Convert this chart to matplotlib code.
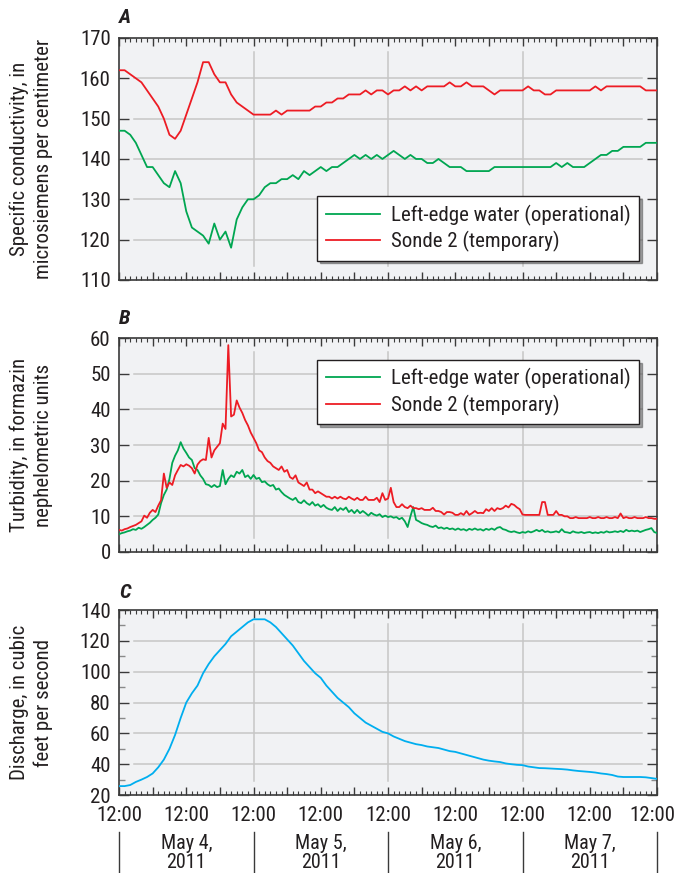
import numpy as np
import matplotlib
matplotlib.use('Agg')
import matplotlib.pyplot as plt
from matplotlib import font_manager
from matplotlib.transforms import ScaledTranslation
from matplotlib.ticker import MultipleLocator, FuncFormatter

# hours since May 4, 2011 00:00 (hourly for conductivity/discharge, half-hourly for turbidity)
hours = np.arange(0, 97, 1.0)
half_hours = np.arange(0, 96.5, 0.5)

# A: specific conductivity, microsiemens per centimeter (hourly)
cond_left = [147, 147, 146, 144, 141, 138, 138, 136, 134, 133,
             137, 134, 127, 123, 122, 121, 119, 124, 120, 122,
             118, 125, 128, 130, 130, 131, 133, 134, 134, 135,
             135, 136, 135, 137, 136, 137, 138, 137, 138, 138,
             139, 140, 141, 140, 141, 140, 141, 140, 141, 142,
             141, 140, 141, 140, 140, 139, 139, 140, 139, 138,
             138, 138, 137, 137, 137, 137, 137, 138, 138, 138,
             138, 138, 138, 138, 138, 138, 138, 138, 139, 138,
             139, 138, 138, 138, 139, 140, 141, 141, 142, 142,
             143, 143, 143, 143, 144, 144, 144]
cond_sonde = [162, 162, 161, 160, 159, 157, 155, 153, 150, 146,
              145, 147, 151, 155, 159, 164, 164, 161, 159, 159,
              156, 154, 153, 152, 151, 151, 151, 151, 152, 151,
              152, 152, 152, 152, 152, 153, 153, 154, 154, 155,
              155, 156, 156, 156, 157, 156, 157, 157, 156, 157,
              157, 158, 157, 158, 157, 158, 158, 158, 158, 159,
              158, 158, 159, 158, 158, 158, 157, 156, 157, 157,
              157, 157, 157, 158, 157, 157, 156, 156, 157, 157,
              157, 157, 157, 157, 157, 158, 157, 158, 158, 158,
              158, 158, 158, 158, 157, 157, 157]

# B: turbidity, FNU (half-hourly)
turb_left = [5.0, 5.3, 5.5, 5.8, 6.0, 6.4, 6.2, 6.8, 6.5, 7.0, 7.6, 8.2,
             9.0, 9.6, 10.5, 13.7, 16.0, 17.5, 20.5, 25.0, 27.0, 28.5, 30.8, 29.0,
             27.8, 26.5, 25.8, 23.5, 23.0, 21.5, 20.5, 19.0, 18.8, 18.2, 18.8, 18.2,
             18.5, 23.0, 19.0, 20.5, 21.5, 21.0, 22.5, 22.0, 23.0, 21.0, 21.5, 20.5,
             21.6, 20.5, 20.8, 19.6, 19.8, 19.0, 18.5, 18.8, 17.5, 17.8, 16.8, 16.0,
             15.5, 15.0, 14.6, 15.2, 14.0, 13.7, 14.5, 13.7, 13.2, 14.0, 13.0, 13.4,
             12.6, 13.2, 12.4, 12.0, 11.8, 12.6, 11.5, 12.3, 11.8, 12.5, 11.2, 11.8,
             10.9, 11.8, 10.9, 11.5, 10.9, 10.2, 11.0, 10.5, 10.2, 10.6, 9.8, 10.2,
             9.8, 10.0, 9.6, 9.8, 9.2, 9.6, 8.6, 7.0, 10.0, 12.6, 9.0, 8.6,
             8.1, 7.8, 7.6, 7.2, 7.0, 7.4, 6.7, 6.9, 6.5, 6.8, 6.4, 6.6,
             6.2, 6.6, 6.2, 6.4, 6.0, 6.5, 6.2, 6.6, 6.2, 6.4, 6.0, 6.5,
             6.2, 6.6, 6.2, 6.8, 7.0, 6.4, 6.2, 5.8, 5.6, 5.8, 5.5, 5.3,
             5.6, 5.4, 5.8, 5.5, 5.8, 6.2, 5.8, 6.2, 5.6, 5.8, 5.5, 5.6,
             5.8, 5.5, 6.4, 5.6, 5.5, 5.3, 5.8, 5.5, 5.4, 5.6, 5.3, 5.5,
             5.6, 5.3, 5.5, 5.3, 5.6, 5.4, 5.8, 5.5, 5.6, 5.8, 5.6, 5.9,
             5.6, 6.2, 5.8, 6.0, 5.8, 6.0, 5.6, 5.9, 6.2, 6.4, 6.7, 5.6,
             5.3]
turb_sonde = [6.2, 6.0, 6.4, 6.6, 7.0, 7.3, 7.6, 8.1, 8.6, 10.2, 9.6, 11.0,
              11.8, 11.2, 13.0, 14.5, 22.0, 18.0, 19.5, 18.8, 21.5, 23.0, 24.4, 24.0,
              24.6, 24.2, 23.5, 22.0, 24.5, 25.5, 26.0, 25.8, 32.0, 26.5, 28.5, 29.5,
              30.5, 36.0, 34.5, 58.0, 38.0, 38.5, 42.5, 40.5, 39.0, 37.0, 35.5, 33.5,
              32.0, 30.5, 28.5, 28.0, 26.5, 25.5, 25.0, 24.0, 23.5, 23.0, 24.0, 22.5,
              23.0, 21.0, 20.5, 21.5, 19.5, 19.0, 18.5, 19.5, 17.5, 17.5, 16.5, 17.0,
              16.5, 16.0, 15.5, 15.5, 15.0, 15.5, 15.0, 15.5, 15.0, 14.8, 15.5, 15.0,
              14.6, 15.2, 14.6, 14.6, 15.5, 14.6, 14.6, 14.6, 15.2, 14.0, 16.5, 14.6,
              15.0, 18.0, 14.0, 12.6, 12.6, 13.4, 12.6, 12.3, 13.0, 12.3, 12.3, 12.0,
              12.3, 11.8, 11.8, 11.8, 12.4, 11.5, 11.5, 11.2, 10.5, 11.2, 11.2, 11.0,
              10.4, 10.4, 10.9, 10.4, 11.5, 10.4, 10.9, 11.5, 10.9, 11.0, 10.9, 12.0,
              11.5, 12.3, 11.5, 12.3, 12.0, 12.3, 13.0, 12.5, 13.5, 13.2, 12.5, 12.0,
              10.5, 10.4, 10.4, 10.4, 10.4, 10.4, 10.4, 14.0, 14.0, 10.4, 10.4, 10.4,
              11.5, 10.4, 10.4, 10.0, 10.0, 9.5, 9.5, 9.8, 9.5, 9.5, 9.5, 9.5,
              9.8, 9.5, 9.5, 9.8, 9.5, 9.5, 9.8, 9.5, 9.5, 9.8, 9.5, 10.8,
              9.5, 9.8, 9.5, 9.5, 9.8, 9.5, 9.5, 9.5, 9.8, 9.5, 9.5, 9.3,
              9.3]

# C: discharge, cubic feet per second (hourly)
discharge = [25.8, 25.8, 26.5, 28.5, 30, 31.7, 34, 38, 43, 50,
             59, 70, 80, 86, 91, 99, 105, 110, 114, 118,
             123, 126, 129, 132, 134, 134, 134, 132, 129, 125,
             121, 117, 112, 107, 103, 99, 96, 91, 87, 83,
             80, 77, 73, 70, 67, 65, 63, 61, 60, 58,
             56.5, 55, 54, 53, 52.4, 51.5, 51, 50.5, 49.5, 48.5,
             48, 47, 46, 45, 44, 43, 42.3, 41.8, 41.4, 40.5,
             40, 39.6, 39.4, 38.5, 38, 37.5, 37.4, 37.2, 37, 36.8,
             36.5, 36, 35.6, 35.3, 35, 34.6, 34, 33.6, 33, 32,
             31.7, 31.7, 31.7, 31.7, 31.5, 31, 30.5]

day_centers = [12, 36, 60, 84]
day_labels = ['May 4,\n2011', 'May 5,\n2011', 'May 6,\n2011', 'May 7,\n2011']
day_edges = [0, 24, 48, 72, 96]

GREEN = '#00a651'
RED = '#ed1c24'
BLUE = '#00aeef'
TXT = '#231f20'

# pick a condensed font if available
names = {f.name for f in font_manager.fontManager.ttflist}
family = 'DejaVu Sans'
for cand in ['Liberation Sans Narrow', 'Roboto Condensed', 'Open Sans Condensed']:
    if cand in names:
        family = cand
        break
plt.rcParams['font.family'] = [family, 'DejaVu Sans']
if family == 'DejaVu Sans':
    plt.rcParams['font.stretch'] = 'condensed'
plt.rcParams['text.color'] = TXT
plt.rcParams['axes.labelcolor'] = TXT
plt.rcParams['xtick.color'] = '#3a3a3a'
plt.rcParams['ytick.color'] = '#3a3a3a'
plt.rcParams['xtick.labelcolor'] = TXT
plt.rcParams['ytick.labelcolor'] = TXT

FS = 15


def style_axes(ax, ymin, ymax, ystep, yminor=None):
    ax.set_facecolor('#f1f2f4')
    ax.set_xlim(0, 96)
    ax.set_ylim(ymin, ymax)
    ax.xaxis.set_major_locator(MultipleLocator(6))
    ax.xaxis.set_minor_locator(MultipleLocator(1))
    ax.yaxis.set_major_locator(MultipleLocator(ystep))
    if yminor:
        ax.yaxis.set_minor_locator(MultipleLocator(yminor))
    ax.tick_params(axis='both', which='both', direction='in',
                   top=True, bottom=True, left=True, right=True, labelsize=FS)
    ax.tick_params(axis='x', which='major', length=5.5, width=1.0)
    ax.tick_params(axis='x', which='minor', length=3.0, width=0.8)
    ax.tick_params(axis='y', which='major', length=7, width=1.0, pad=6)
    ax.tick_params(axis='y', which='minor', length=4.5, width=1.0, color='#8a8a8a')
    for sp in ax.spines.values():
        sp.set_color('#3a3a3a')
        sp.set_linewidth(1.2)
    # inset grid lines
    h_px = ax.get_position().height * 873
    inset = 14 / h_px
    for v in np.arange(ymin + ystep, ymax, ystep):
        ax.axhline(v, xmin=0.027, xmax=0.972, color='#c6c6c6', lw=1.1, zorder=1)
    for d in day_edges[1:-1]:
        ax.axvline(d, ymin=inset, ymax=1 - inset, color='#c6c6c6', lw=1.1, zorder=1)


fig = plt.figure(figsize=(6.74, 8.73), dpi=100)
ax_a = fig.add_axes([0.1766, 0.6793, 0.7982, 0.2772])
ax_b = fig.add_axes([0.1766, 0.3677, 0.7982, 0.2451])
ax_c = fig.add_axes([0.1766, 0.0893, 0.7982, 0.2119])

# panel A
style_axes(ax_a, 110, 170, 10)
ax_a.plot(hours, cond_left, color=GREEN, lw=1.3, zorder=3, label='Left-edge water (operational)')
ax_a.plot(hours, cond_sonde, color=RED, lw=1.3, zorder=3, label='Sonde 2 (temporary)')
ax_a.tick_params(axis='x', labelbottom=False)
ax_a.set_ylabel('Specific conductivity, in\nmicrosiemens per centimeter', fontsize=15, linespacing=1.3)

# panel B
style_axes(ax_b, 0, 60, 10)
ax_b.plot(half_hours, turb_left, color=GREEN, lw=1.3, zorder=3, label='Left-edge water (operational)')
ax_b.plot(half_hours, turb_sonde, color=RED, lw=1.3, zorder=3, label='Sonde 2 (temporary)')
ax_b.tick_params(axis='x', labelbottom=False)
ax_b.set_ylabel('Turbidity, in formazin\nnephelometric units', fontsize=15, linespacing=1.3)

# panel C
style_axes(ax_c, 20, 140, 20, yminor=10)
ax_c.plot(hours, discharge, color=BLUE, lw=1.3, zorder=3)
# last label is placed by hand so it stays inside the figure
ax_c.xaxis.set_major_formatter(FuncFormatter(lambda x, pos: '12:00' if x % 12 == 0 and x < 96 else ''))
ax_c.tick_params(axis='x', which='major', pad=8)
ax_c.set_ylabel('Discharge, in cubic\nfeet per second', fontsize=15, linespacing=1.3)

xt = ax_c.get_xaxis_transform()
shift = ScaledTranslation(-5 / 100, 0, fig.dpi_scale_trans)
ax_c.text(96, -8 / 72 * 100 / (0.2119 * 873), '12:00', transform=xt + shift,
          ha='center', va='top', fontsize=FS)

for ax in (ax_a, ax_b, ax_c):
    ax.yaxis.set_label_coords(-0.123, 0.5)

for ax, anchor in ((ax_a, (0.967, 0.345)), (ax_b, (0.967, 0.898))):
    leg = ax.legend(loc='upper right', bbox_to_anchor=anchor, fontsize=15, frameon=True,
                    fancybox=False, shadow=True, handlelength=2.6, handletextpad=0.55,
                    labelspacing=0.25, borderpad=0.4, borderaxespad=0)
    leg.get_frame().set_edgecolor('#231f20')
    leg.get_frame().set_linewidth(1.0)
    leg.get_frame().set_facecolor('white')
    leg.set_zorder(5)

# panel letters
for ax, letter in ((ax_a, 'A'), (ax_b, 'B'), (ax_c, 'C')):
    ax.text(0.0, 1.045, letter, transform=ax.transAxes, fontsize=15,
            fontweight='bold', fontstyle='italic', ha='left', va='bottom')

# day labels under the time axis
for c, lab in zip(day_centers, day_labels):
    ax_c.text(c, -0.212, lab, transform=xt, ha='center', va='top', fontsize=14.5, linespacing=1.0)
for d in day_edges:
    ax_c.plot([d, d], [-0.2, -0.43], transform=xt, color='#3a3a3a', lw=1.0, clip_on=False)

fig.savefig('out.png', dpi=100)
